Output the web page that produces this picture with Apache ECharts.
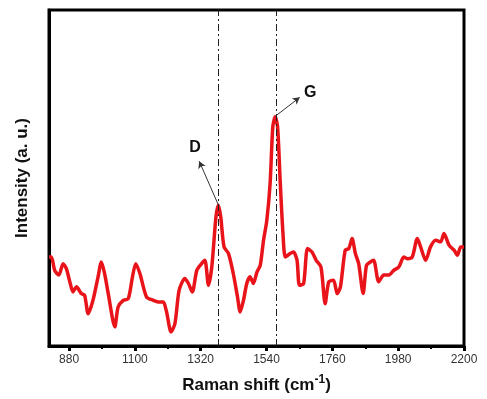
<!DOCTYPE html>
<html>
<head>
<meta charset="utf-8">
<script src="https://cdn.jsdelivr.net/npm/echarts@6/dist/echarts.min.js"></script>
<style>
	html,body{margin:0;padding:0;background:#fff;}
	#chart{width:487px;height:399px;}
</style>
</head>
<body>
<div id="chart"></div>
<script>
// Raman shift (cm-1) and intensity (a.u., 0-100 scale)
var shift = [813,821,832,846,860,871,884,893,905,921,932,944,960,977,988,999,1011,1033,1044,1061,1078,1092,1103,1117,1139,1161,1178,1195,1206,1221,1234,1248,1267,1279,1292,1307,1323,1334,1346,1357,1371,1379,1387,1398,1413,1429,1443,1452,1463,1474,1485,1496,1508,1519,1530,1541,1552,1561,1569,1577,1586,1595,1603,1619,1630,1642,1650,1664,1677,1692,1706,1722,1736,1748,1764,1776,1787,1803,1815,1826,1837,1848,1863,1874,1887,1898,1915,1932,1949,1965,1982,1999,2010,2027,2044,2055,2072,2088,2105,2122,2133,2150,2167,2178,2189,2200]
var intensity = [26.5,26.5,22.5,21.1,24.5,23.0,18.6,16.1,17.6,15.6,15.1,9.6,13.6,20.6,25.0,21.5,15.6,5.7,11.6,13.6,14.1,20.6,24.5,21.5,14.6,13.6,13.1,13.1,10.1,4.2,6.7,16.6,20.1,18.6,16.1,22.5,24.5,25.5,18.1,23.5,38.4,41.9,38.4,29.5,27.5,21.5,14.6,10.1,13.6,18.6,20.6,18.6,22.0,24.0,31.5,37.4,48.4,65.2,68.2,65.2,48.4,33.5,26.5,27.5,28.0,25.5,18.1,18.6,29.0,28.0,25.5,23.5,12.6,19.1,19.6,15.6,17.6,28.5,29.0,32.0,27.5,24.5,15.6,24.0,25.0,25.5,19.1,21.1,21.1,22.5,23.5,26.5,26.0,26.5,32.0,29.5,25.5,29.5,31.5,31.0,33.5,30.0,28.5,27.0,29.5,29.5]
var xTicks = [880,1100,1320,1540,1760,1980,2200]
var xMinorTicks = [990,1210,1430,1650,1870,2090]
var bandPos = [1380,1571]          // D, G dash-dot guides
var bandNames = ['D','G']
var arrowFrom = [[1379,42],[1571,68.5]]
var arrowTo = [[1315,55],[1651,74]]
var labelAt = [[1301,59],[1686,75.5]]

var data = shift.map(function(x,i){ return [x,intensity[i]] })

var chart = echarts.init(document.getElementById('chart'))
var option = {
	animation:false,
	grid:{left:49,right:23,top:10,bottom:53,show:true,borderColor:'#000',borderWidth:3},
	xAxis:[{
		type:'value',min:813,max:2200,
		axisLine:{lineStyle:{color:'#000',width:3}},
		axisTick:{show:true,inside:false,length:5,customValues:xTicks,lineStyle:{color:'#000',width:3}},
		axisLabel:{customValues:xTicks,color:'#333',fontSize:12,fontFamily:'Liberation Sans, Arial',margin:8,
			formatter:function(v){ return String(v) }},
		splitLine:{show:false},
		name:'{a|Raman shift (cm}{s|-1}{a|)}',nameLocation:'middle',nameGap:28,
		nameTextStyle:{rich:{
			a:{fontSize:17,fontWeight:'bold',color:'#111',fontFamily:'Liberation Sans, Arial'},
			s:{fontSize:12,fontWeight:'bold',color:'#111',fontFamily:'Liberation Sans, Arial',verticalAlign:'top',padding:[0,0,10,0]}
		}}
	},{
		type:'value',min:813,max:2200,position:'bottom',
		axisLine:{show:false},
		axisTick:{show:true,length:3,customValues:xMinorTicks,lineStyle:{color:'#000',width:2}},
		axisLabel:{show:false},splitLine:{show:false}
	}],
	yAxis:{
		type:'value',min:0,max:100,
		axisLine:{show:true,lineStyle:{color:'#000',width:3}},
		axisTick:{show:false},axisLabel:{show:false},splitLine:{show:false},
		name:'Intensity (a. u.)',nameLocation:'middle',nameGap:18,
		nameTextStyle:{fontSize:17,fontWeight:'bold',color:'#111',fontFamily:'Liberation Sans, Arial'}
	},
	series:[{
		type:'line',data:data,showSymbol:false,smooth:0.25,
		lineStyle:{color:'#e8141a',width:3.5},
		markLine:{
			silent:true,symbol:['none','none'],label:{show:false},
			lineStyle:{color:'#222',width:1,type:[7,3,2,3]},
			data:bandPos.map(function(x){ return {xAxis:x} })
		},
		markPoint:{
			silent:true,symbol:'circle',symbolSize:0,
			label:{show:true,color:'#111',fontSize:16,fontWeight:'bold',fontFamily:'Liberation Sans, Arial',position:'inside'},
			data:labelAt.map(function(p,i){ return {coord:p,label:{formatter:bandNames[i]}} })
		}
	},{
		type:'line',data:[],
		markLine:{
			silent:true,symbol:['none','arrow'],symbolSize:[6,7],label:{show:false},
			lineStyle:{color:'#333',width:1,type:'solid'},
			data:arrowFrom.map(function(p,i){ return [{coord:p},{coord:arrowTo[i]}] })
		}
	}]
}
chart.setOption(option)
</script>
</body>
</html>
